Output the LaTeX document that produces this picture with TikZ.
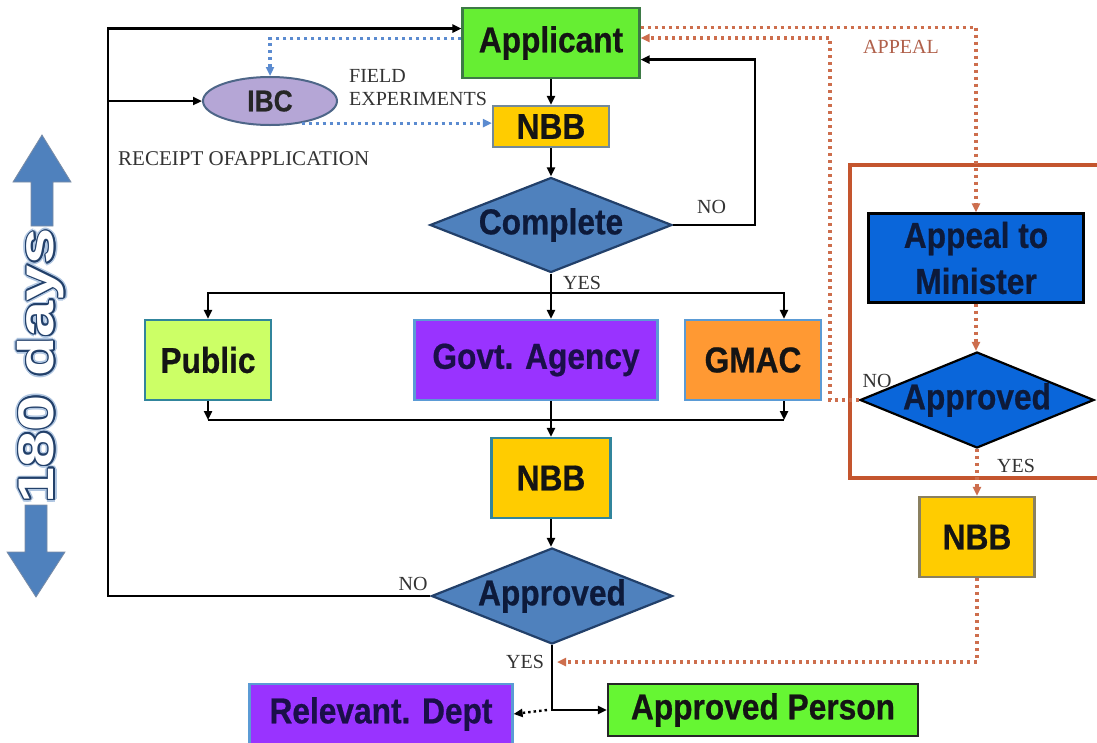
\documentclass[tikz,border=0pt]{standalone}
\usepackage{fontspec}
\setmainfont{Liberation Serif}
\newfontfamily\boxfont[FakeStretch=0.88,FakeBold=0.6]{Liberation Sans}
\newfontfamily\daysfont[FakeStretch=1.3]{Liberation Sans}
\usetikzlibrary{arrows.meta,shapes.geometric,calc}

\definecolor{appgreen}{HTML}{66EE33}
\definecolor{persongreen}{HTML}{66F633}
\definecolor{nbbyellow}{HTML}{FFCC00}
\definecolor{steel}{HTML}{4F81BD}
\definecolor{steeldark}{HTML}{22406A}
\definecolor{limefill}{HTML}{CCFF66}
\definecolor{purplefill}{HTML}{9933FF}
\definecolor{orangefill}{HTML}{FF9933}
\definecolor{lavender}{HTML}{B5A6D6}
\definecolor{royal}{HTML}{0A66DA}
\definecolor{rust}{HTML}{C4552E}
\definecolor{dotblue}{HTML}{5B8BD0}
\definecolor{edgeblue}{HTML}{5B9BD5}
\definecolor{edgeteal}{HTML}{31859C}
\definecolor{edgegray}{HTML}{73899A}
\definecolor{edgegreen}{HTML}{3D7A46}
\definecolor{edgeolive}{HTML}{8A8060}
\definecolor{labelgray}{HTML}{333333}
\definecolor{appealtxt}{HTML}{B0604A}
\definecolor{navytext}{HTML}{0D1A3A}
\definecolor{purpletext}{HTML}{1B0F4A}

\begin{document}
\begin{tikzpicture}[x=1pt,y=-1pt,
  box/.style={draw, line width=2.2pt, inner sep=0pt, rectangle,
    font=\boxfont\bfseries\fontsize{36}{46}\selectfont, text=black!92},
  decision/.style={diamond, aspect=2.5, draw, line width=2.2pt, inner sep=0pt,
    font=\boxfont\bfseries\fontsize{36}{42}\selectfont, text=navytext},
  lbl/.style={font=\fontsize{20}{22}\selectfont, text=labelgray, inner sep=0pt},
  flow/.style={line width=2.6pt, draw=black},
  tip/.style={-{Triangle[length=9pt,width=8pt]}},
  bluedot/.style={line width=3.2pt, draw=dotblue, dash pattern=on 3pt off 4pt},
  reddot/.style={line width=3.2pt, draw=rust!85, dash pattern=on 3pt off 4pt},
  blackdot/.style={line width=2.4pt, draw=black, dash pattern=on 2.5pt off 3pt},
]
\useasboundingbox (0,0) rectangle (1097,742);
\fill[white] (0,0) rectangle (1097,742);

% appeal frame on the right
\node[draw=rust, line width=4pt, minimum width=252pt, minimum height=313pt, inner sep=0pt] (frame) at (976,321.5) {};

% main column
\node[box, fill=appgreen, draw=edgegreen, minimum width=177pt, minimum height=70pt] (app) at (551,43) {Applicant};
\node[box, fill=nbbyellow, draw=edgegray, minimum width=116pt, minimum height=41pt] (nbb1) at (551,126.5) {NBB};
\node[decision, fill=steel, draw=steeldark, minimum width=242pt, minimum height=95pt] (complete) at (551,225) {Complete};

\node[box, fill=limefill, draw=edgeteal, minimum width=126pt, minimum height=80pt] (pub) at (208,360) {Public};
\node[box, fill=purplefill, draw=edgeblue, text=purpletext, minimum width=243pt, minimum height=80pt] (gov) at (536,360) {Govt. Agency};
\node[box, fill=orangefill, draw=edgeblue, minimum width=136pt, minimum height=80pt] (gmac) at (753,360) {GMAC};

\node[box, fill=nbbyellow, draw=edgeteal, minimum width=119pt, minimum height=80pt] (nbb2) at (551,478) {NBB};
\node[decision, fill=steel, draw=steeldark, minimum width=241pt, minimum height=96pt] (appr) at (552,596) {Approved};

\node[box, fill=purplefill, draw=edgeblue, text=purpletext, minimum width=263pt, minimum height=60pt] (rel) at (381,714) {Relevant. Dept};
\node[box, fill=persongreen, draw=black!85, minimum width=310pt, minimum height=52pt] (person) at (763,710) {Approved Person};

\node[ellipse, draw=steeldark!80, line width=2pt, fill=lavender, inner sep=0pt,
  minimum width=134pt, minimum height=48pt,
  font=\boxfont\bfseries\fontsize{30}{34}\selectfont, text=black!85] (ibc) at (270,101) {IBC};

% right column
\node[box, fill=royal, draw=black, text=navytext, align=center, minimum width=215pt, minimum height=89pt] (appeal) at (976,258) {Appeal to\\Minister};
\node[decision, fill=royal, draw=black, minimum width=234pt, minimum height=96pt] (rappr) at (977,400) {Approved};
\node[box, fill=nbbyellow, draw=edgeolive, minimum width=115pt, minimum height=80pt] (rnbb) at (977,537) {NBB};

% labels
\node[lbl, anchor=west] (fieldA) at (349,76) {FIELD};
\node[lbl, anchor=west] (fieldB) at (349,99) {EXPERIMENTS};
\node[lbl, anchor=west, font=\fontsize{21}{23}\selectfont] (receipt) at (118,159) {RECEIPT OFAPPLICATION};
\node[lbl, anchor=west] (noA) at (697,207) {NO};
\node[lbl, anchor=west] (yesA) at (563,283) {YES};
\node[lbl] (noB) at (413,584) {NO};
\node[lbl] (yesB) at (525,662) {YES};
\node[lbl, text=appealtxt] (appealLbl) at (901,47) {APPEAL};
\node[lbl] (noC) at (877,381) {NO};
\node[lbl] (yesC) at (1016,466) {YES};

% helper coordinates for bends
\coordinate (ain)  at ($(app.north west)!0.30!(app.south west)$);
\coordinate (aw2)  at ($(app.north west)!0.44!(app.south west)$);
\coordinate (ae1)  at ($(app.north east)!0.28!(app.south east)$);
\coordinate (ae2)  at ($(app.north east)!0.43!(app.south east)$);
\coordinate (ae3)  at ($(app.north east)!0.73!(app.south east)$);
\coordinate (noturn) at (755,0);
\coordinate (lx)   at (108,0);
\coordinate (rx)   at (830,0);
\coordinate (br)   at (551,293);
\coordinate (mg)   at (551,420);
\coordinate (ga)   at (784,0);
\coordinate (yesjoin) at (557,662);

% solid flow
\draw[flow,tip] (app.south) -- (nbb1.north);
\draw[flow,tip] (nbb1.south) -- (complete.north);
\draw[flow,tip] (complete.east) -| (noturn |- ae3) -- (ae3);
\draw[flow,tip] (complete.south) -- (complete.south |- gov.north);
\draw[flow,tip] (br) -| (pub.north);
\draw[flow,tip] (br) -| (gmac.north -| ga);
\draw[flow,tip] (pub.south) -- (pub.south |- mg);
\draw[flow,tip] (gmac.south -| ga) -- (ga |- mg);
\draw[flow] (pub.south |- mg) -- (ga |- mg);
\draw[flow,tip] (mg |- gov.south) -- (nbb2.north);
\draw[flow,tip] (nbb2.south) -- (nbb2.south |- appr.north);
\draw[flow,tip] (appr.west) -| (lx |- ain) -- (ain);
\draw[flow,tip] (lx |- ibc.west) -- (ibc.west);
\draw[flow,tip] (appr.south) |- (person.west);
\draw[blackdot,tip] ($(appr.south |- person.west)+(-5,0)$) -- (rel.east);

% dotted links around IBC
\draw[bluedot,tip] (aw2) -| (ibc.north);
\draw[bluedot,tip] (ibc.-35) -- (ibc.-35 -| nbb1.west);

% appeal route
\draw[reddot,tip] (ae1) -| (appeal.north);
\draw[reddot,tip] (rappr.west) -| (rx |- ae2) -- (ae2);
\draw[reddot,tip] (appeal.south) -- (appeal.south |- rappr.north);
\draw[reddot,tip] (rappr.south) -- (rappr.south |- rnbb.north);
\draw[reddot,tip] (rnbb.south) |- (yesjoin);

% 180 days time arrow
\fill[steel, draw=steeldark!60, line width=0.8pt]
  (42,135) -- (71,182) -- (53,182) -- (53,226) -- (31,226) -- (31,182) -- (13,182) -- cycle;
\fill[steel, draw=steeldark!60, line width=0.8pt]
  (36,597) -- (65,552) -- (47,552) -- (47,505) -- (25,505) -- (25,552) -- (7,552) -- cycle;
\foreach \a in {0,30,...,330}
  \node[rotate=90, inner sep=0pt, text=steel!45, font=\daysfont\bfseries\fontsize{50}{50}\selectfont]
    at ($(41,366)+(\a:3.2)$) {180 days};
\foreach \a in {0,30,...,330}
  \node[rotate=90, inner sep=0pt, text=steeldark, font=\daysfont\bfseries\fontsize{50}{50}\selectfont]
    at ($(41,366)+(\a:1.6)$) {180 days};
\node[rotate=90, inner sep=0pt, text=white, font=\daysfont\bfseries\fontsize{50}{50}\selectfont]
  (days) at (41,366) {180 days};
\end{tikzpicture}
\end{document}
